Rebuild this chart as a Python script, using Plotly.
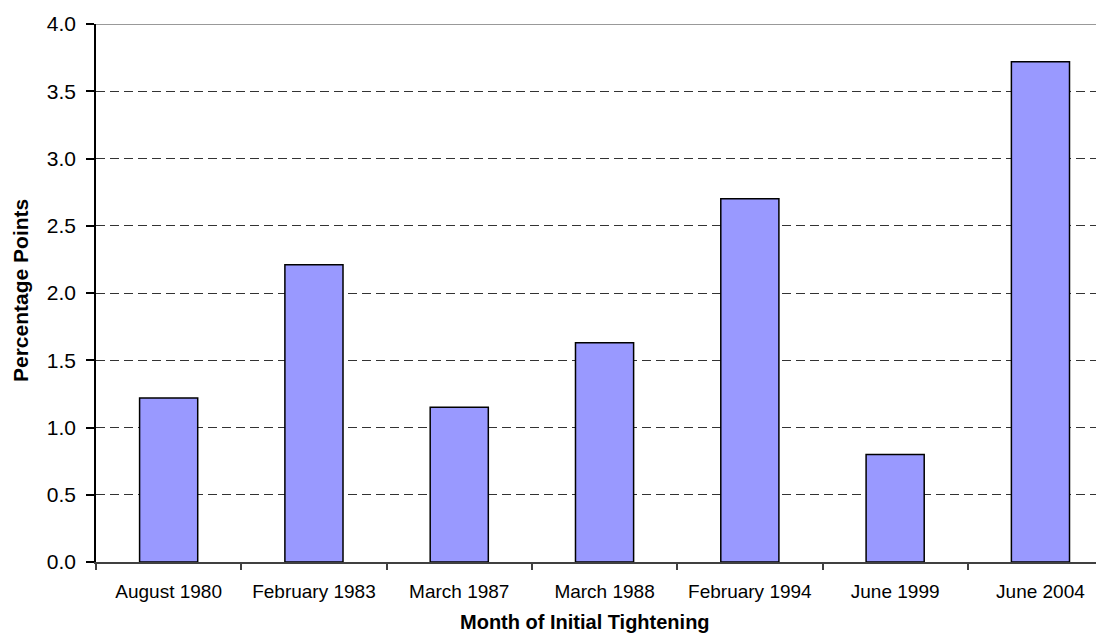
import plotly.graph_objects as go

categories = ["August 1980", "February 1983", "March 1987", "March 1988",
              "February 1994", "June 1999", "June 2004"]
values = [1.22, 2.21, 1.15, 1.63, 2.70, 0.80, 3.72]
y_ticks = [0.0, 0.5, 1.0, 1.5, 2.0, 2.5, 3.0, 3.5, 4.0]
y_tick_labels = ["0.0", "0.5", "1.0", "1.5", "2.0", "2.5", "3.0", "3.5", "4.0"]

# page body has 8px margin; figure is placed at (8, 8)
W, H = 1088, 626
L, T = 88, 16
R, B = 0, 72
plot_w = W - L - R
plot_h = H - T - B

fig = go.Figure()
fig.add_trace(go.Bar(
    x=categories, y=values,
    marker=dict(color="#9999FF", line=dict(color="#000000", width=1.5)),
    width=0.4,
))

fig.update_layout(
    width=W, height=H,
    margin=dict(l=L, r=R, t=T, b=B),
    paper_bgcolor="white", plot_bgcolor="white",
    showlegend=False,
    font=dict(family="Liberation Sans, Arial, sans-serif", color="#000000"),
)

fig.update_xaxes(
    type="category",
    range=[-0.5, -0.5 + plot_w / 145.3],
    showline=True, linecolor="#404040", linewidth=1.5,
    ticks="outside", ticklen=6, tickcolor="#404040", tickwidth=1.5,
    tickson="boundaries",
    tickfont=dict(size=19),
    ticklabelstandoff=11,
    showgrid=False,
    zeroline=False,
)

fig.update_yaxes(
    range=[0, 4.0],
    tickvals=y_ticks, ticktext=y_tick_labels,
    showline=True, linecolor="#000000", linewidth=1.5,
    ticks="outside", ticklen=8, tickcolor="#000000", tickwidth=1.5,
    tickfont=dict(size=21),
    ticklabelstandoff=6,
    showgrid=True, gridcolor="#333333", gridwidth=1, griddash="9px,5px",
    zeroline=False,
)

# solid top line at 4.0
fig.add_shape(type="line", xref="paper", yref="y", x0=0, x1=1, y0=4.0, y1=4.0,
              line=dict(color="#999999", width=2))

fig.add_annotation(
    text="<b>Month of Initial Tightening</b>",
    xref="paper", yref="paper", x=(585 - 96) / plot_w, y=(562 - 622) / plot_h,
    xanchor="center", yanchor="middle", showarrow=False,
    font=dict(size=20),
)
fig.add_annotation(
    text="<b>Percentage Points</b>", textangle=-90,
    xref="paper", yref="paper", x=(20 - 96) / plot_w, y=(562 - 291) / plot_h,
    xanchor="center", yanchor="middle", showarrow=False,
    font=dict(size=21),
)

fig.write_html("out.html")
